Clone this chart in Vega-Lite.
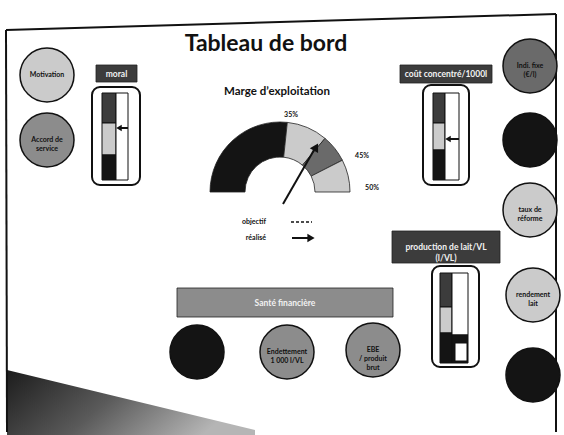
{
  "$schema": "https://vega.github.io/schema/vega-lite/v6.json",
  "width": 564,
  "height": 435,
  "autosize": {"type": "fit", "contains": "padding"},
  "padding": 0,
  "background": "white",
  "config": {"view": {"stroke": null}, "text": {"font": "Lato"}},
  "datasets": {
    "bord": [
      {"x": 6, "y": 30, "x2": 556, "y2": 14},
      {"x": 556, "y": 14, "x2": 556, "y2": 432},
      {"x": 6, "y": 30, "x2": 7, "y2": 432}
    ],
    "coin": [
      {"x": 7, "y": 370, "y2": 435},
      {"x": 255, "y": 430, "y2": 435}
    ],
    "cercles": [
      {"x": 47, "y": 75, "tone": "clair", "label": ["Motivation"]},
      {"x": 47, "y": 140, "tone": "moyen", "label": ["Accord de", "service"]},
      {"x": 530, "y": 66, "tone": "gris", "label": ["Indi. fixe", "(€/l)"]},
      {"x": 530, "y": 140, "tone": "noir", "label": [""]},
      {"x": 530, "y": 210, "tone": "clair", "label": ["taux de", "réforme"]},
      {"x": 533, "y": 295, "tone": "clair", "label": ["rendement", "lait"]},
      {"x": 533, "y": 375, "tone": "noir", "label": [""]},
      {"x": 197, "y": 352, "tone": "noir", "label": [""]},
      {"x": 287, "y": 352, "tone": "moyen", "label": ["Endettement", "1 000 l/VL"]},
      {"x": 373, "y": 350, "tone": "moyen", "label": ["EBE", "/ produit", "brut"]}
    ],
    "boites": [
      {"x": 96, "y": 65, "x2": 137, "y2": 82, "tone": "fonce", "label": ["moral"]},
      {"x": 400, "y": 65, "x2": 492, "y2": 83, "tone": "fonce", "label": ["coût concentré/1000l"]},
      {"x": 392, "y": 231, "x2": 500, "y2": 263, "tone": "fonce", "label": ["production de lait/VL", "(l/VL)"]},
      {"x": 177, "y": 288, "x2": 393, "y2": 317, "tone": "moyen", "label": ["Santé financière"]}
    ],
    "thermos": [
      {"x": 92, "y": 87, "x2": 140, "y2": 185},
      {"x": 423, "y": 85, "x2": 469, "y2": 185},
      {"x": 432, "y": 266, "x2": 479, "y2": 367}
    ],
    "segments": [
      {"x": 102, "y": 93, "x2": 116, "y2": 123, "tone": "fonce"},
      {"x": 102, "y": 123, "x2": 116, "y2": 155, "tone": "clair"},
      {"x": 102, "y": 155, "x2": 116, "y2": 180, "tone": "noir"},
      {"x": 116, "y": 93, "x2": 128, "y2": 180, "tone": "blanc"},
      {"x": 433, "y": 93, "x2": 445, "y2": 123, "tone": "fonce"},
      {"x": 433, "y": 123, "x2": 445, "y2": 150, "tone": "clair"},
      {"x": 433, "y": 150, "x2": 445, "y2": 180, "tone": "noir"},
      {"x": 445, "y": 93, "x2": 459, "y2": 180, "tone": "blanc"},
      {"x": 440, "y": 273, "x2": 452, "y2": 307, "tone": "fonce"},
      {"x": 440, "y": 307, "x2": 452, "y2": 333, "tone": "clair"},
      {"x": 440, "y": 333, "x2": 452, "y2": 363, "tone": "noir"},
      {"x": 452, "y": 273, "x2": 468, "y2": 335, "tone": "blanc"},
      {"x": 452, "y": 335, "x2": 468, "y2": 363, "tone": "noir"},
      {"x": 455, "y": 343, "x2": 467, "y2": 361, "tone": "blanc"}
    ],
    "fleches": [
      {"x": 118, "y": 128, "x2": 128, "y2": 128},
      {"x": 447, "y": 139, "x2": 459, "y2": 139},
      {"x": 292, "y": 238, "x2": 308, "y2": 238}
    ],
    "pointes_g": [
      {"x": 119, "y": 128},
      {"x": 448, "y": 139}
    ],
    "pointes_d": [
      {"x": 311, "y": 238}
    ],
    "jauge": [
      {"x": 280, "y": 192, "a": -90, "a2": 6, "tone": "noir"},
      {"x": 280, "y": 192, "a": 6, "a2": 40, "tone": "clair"},
      {"x": 280, "y": 192, "a": 40, "a2": 63, "tone": "gris"},
      {"x": 280, "y": 192, "a": 63, "a2": 90, "tone": "clair"}
    ],
    "aiguille": [{"x": 283, "y": 204, "x2": 314, "y2": 150}],
    "pointe_aiguille": [{"x": 316, "y": 147}],
    "pourcent": [
      {"x": 291, "y": 115, "label": "35%"},
      {"x": 362, "y": 156, "label": "45%"},
      {"x": 372, "y": 188, "label": "50%"}
    ],
    "legende": [
      {"x": 266, "y": 222, "label": "objectif"},
      {"x": 266, "y": 238, "label": "réalisé"}
    ],
    "objectif": [{"x": 291, "y": 222, "x2": 312, "y2": 222}],
    "titres": [
      {"x": 266, "y": 44, "label": "Tableau de bord", "niveau": "titre"},
      {"x": 277, "y": 92, "label": "Marge d’exploitation", "niveau": "sous"}
    ]
  },
  "encoding": {
    "x": {"field": "x", "type": "quantitative", "scale": {"domain": [0, 564], "nice": false, "zero": false}, "axis": null},
    "y": {"field": "y", "type": "quantitative", "scale": {"domain": [0, 435], "reverse": true, "nice": false, "zero": false}, "axis": null}
  },
  "layer": [
    {
      "data": {"name": "coin"},
      "mark": {"type": "area", "fill": {"gradient": "linear", "x1": 0, "y1": 0, "x2": 1, "y2": 0.3, "stops": [{"offset": 0, "color": "#1c1c1c"}, {"offset": 0.5, "color": "#5a5a5a"}, {"offset": 1, "color": "#b5b5b5"}]}},
      "encoding": {"y2": {"field": "y2"}}
    },
    {
      "data": {"name": "bord"},
      "mark": {"type": "rule", "color": "#111", "strokeWidth": 2},
      "encoding": {"x2": {"field": "x2"}, "y2": {"field": "y2"}}
    },
    {
      "data": {"name": "titres"},
      "mark": {"type": "text", "fontWeight": "bold", "color": "#111", "baseline": "middle"},
      "encoding": {
        "text": {"field": "label"},
        "size": {"field": "niveau", "type": "nominal", "scale": {"domain": ["titre", "sous"], "range": [23, 11.5]}, "legend": null}
      }
    },
    {
      "data": {"name": "boites"},
      "mark": {"type": "rect", "stroke": "#222", "strokeWidth": 0.8},
      "encoding": {
        "x2": {"field": "x2"}, "y2": {"field": "y2"},
        "color": {"field": "tone", "type": "nominal", "scale": {"domain": ["noir", "fonce", "gris", "moyen", "clair", "blanc"], "range": ["#141414", "#3c3c3c", "#6a6a6a", "#8c8c8c", "#cbcbcb", "#ffffff"]}, "legend": null}
      }
    },
    {
      "data": {"name": "boites"},
      "transform": [
        {"calculate": "(datum.x + datum.x2) / 2", "as": "cx"},
        {"calculate": "(datum.y + datum.y2) / 2", "as": "cy"}
      ],
      "mark": {"type": "text", "color": "#f2f2f2", "fontSize": 8.5, "fontWeight": "bold", "baseline": "middle", "lineHeight": 11},
      "encoding": {
        "x": {"field": "cx", "type": "quantitative"},
        "y": {"field": "cy", "type": "quantitative"},
        "text": {"field": "label"}
      }
    },
    {
      "data": {"name": "thermos"},
      "mark": {"type": "rect", "fill": "white", "stroke": "#111", "strokeWidth": 2, "cornerRadius": 8},
      "encoding": {"x2": {"field": "x2"}, "y2": {"field": "y2"}}
    },
    {
      "data": {"name": "segments"},
      "mark": {"type": "rect", "stroke": "#111", "strokeWidth": 1},
      "encoding": {
        "x2": {"field": "x2"}, "y2": {"field": "y2"},
        "color": {"field": "tone", "type": "nominal", "legend": null}
      }
    },
    {
      "data": {"name": "fleches"},
      "mark": {"type": "rule", "color": "#111", "strokeWidth": 2},
      "encoding": {"x2": {"field": "x2"}, "y2": {"field": "y2"}}
    },
    {
      "data": {"name": "pointes_g"},
      "mark": {"type": "point", "shape": "triangle-left", "filled": true, "color": "#111", "size": 40, "opacity": 1},
      "encoding": {}
    },
    {
      "data": {"name": "pointes_d"},
      "mark": {"type": "point", "shape": "triangle-right", "filled": true, "color": "#111", "size": 70, "opacity": 1},
      "encoding": {}
    },
    {
      "data": {"name": "jauge"},
      "mark": {"type": "arc", "outerRadius": 70, "innerRadius": 35, "stroke": "#222", "strokeWidth": 0.8},
      "encoding": {
        "theta": {"field": "a", "type": "quantitative", "scale": {"domain": [-90, 90], "range": [-1.5708, 1.5708], "zero": false, "nice": false}},
        "theta2": {"field": "a2"},
        "color": {"field": "tone", "type": "nominal", "legend": null}
      }
    },
    {
      "data": {"name": "aiguille"},
      "mark": {"type": "rule", "color": "#111", "strokeWidth": 2},
      "encoding": {"x2": {"field": "x2"}, "y2": {"field": "y2"}}
    },
    {
      "data": {"name": "pointe_aiguille"},
      "mark": {"type": "point", "shape": "triangle-up", "angle": 30, "filled": true, "color": "#111", "size": 90, "opacity": 1},
      "encoding": {}
    },
    {
      "data": {"name": "objectif"},
      "mark": {"type": "rule", "color": "#111", "strokeWidth": 1.5, "strokeDash": [3, 2]},
      "encoding": {"x2": {"field": "x2"}, "y2": {"field": "y2"}}
    },
    {
      "data": {"name": "pourcent"},
      "mark": {"type": "text", "fontSize": 7, "fontWeight": "bold", "color": "#111", "baseline": "middle"},
      "encoding": {"text": {"field": "label"}}
    },
    {
      "data": {"name": "legende"},
      "mark": {"type": "text", "fontSize": 7, "fontWeight": "bold", "color": "#111", "baseline": "middle", "align": "right"},
      "encoding": {"text": {"field": "label"}}
    },
    {
      "data": {"name": "cercles"},
      "mark": {"type": "point", "shape": "circle", "filled": true, "size": 2916, "stroke": "#111", "strokeWidth": 1.5, "opacity": 1, "strokeOpacity": 1},
      "encoding": {
        "color": {"field": "tone", "type": "nominal", "legend": null},
        "stroke": {"value": "#111"}
      }
    },
    {
      "data": {"name": "cercles"},
      "mark": {"type": "text", "fontSize": 7, "fontWeight": "bold", "color": "#111", "baseline": "middle", "lineHeight": 9},
      "encoding": {"text": {"field": "label"}}
    }
  ]
}
